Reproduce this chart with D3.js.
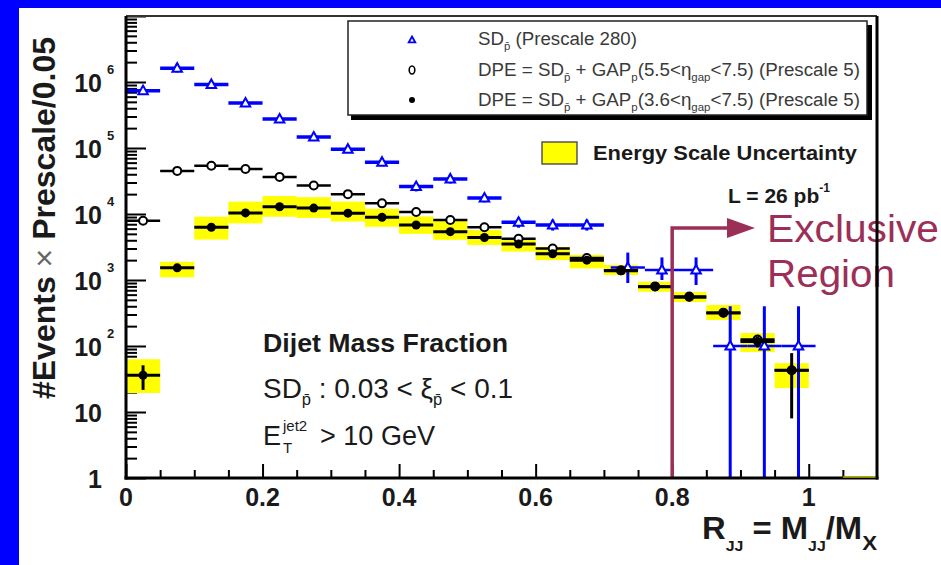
<!DOCTYPE html>
<html>
<head>
<meta charset="utf-8">
<script src="https://cdn.jsdelivr.net/npm/d3@7"></script>
<style>
  html, body { margin: 0; padding: 0; background: #0000ff; }
  svg { display: block; }
  text { font-family: "Liberation Sans", Arial, sans-serif; }
</style>
</head>
<body>
<svg id="chart" width="941" height="565"></svg>
<script>
// Dijet mass fraction R_JJ, bins of width 0.05
const binCenters = [0.025, 0.075, 0.125, 0.175, 0.225, 0.275, 0.325, 0.375, 0.425, 0.475,
                    0.525, 0.575, 0.625, 0.675, 0.725, 0.775, 0.825, 0.875, 0.925, 0.975];
const binHalfWidth = 0.025;

// SD_pbar sample (prescale 280)
const sdX  = [0.025, 0.075, 0.125, 0.175, 0.225, 0.275, 0.325, 0.375, 0.425, 0.475,
              0.525, 0.575, 0.625, 0.675, 0.735, 0.785, 0.835, 0.885, 0.935, 0.985];
const sdY  = [7.4e5, 1.62e6, 9.2e5, 4.8e5, 2.75e5, 1.47e5, 9.6e4, 6.1e4, 2.6e4, 3.4e4,
              1.75e4, 7.5e3, 6.8e3, 6.8e3, 1.55e3, 1.42e3, 1.42e3, 100, 100, 100];
const sdLo = [6.4e5, 1.4e6, 8.0e5, 4.2e5, 2.4e5, 1.28e5, 8.4e4, 5.3e4, 2.2e4, 2.9e4,
              1.5e4, 6.2e3, 5.6e3, 5.6e3, 900, 1.0e3, 840, 0, 0, 0];
const sdHi = [8.6e5, 1.9e6, 1.05e6, 5.5e5, 3.15e5, 1.7e5, 1.1e5, 7.0e4, 3.0e4, 3.9e4,
              2.0e4, 8.8e3, 8.2e3, 8.2e3, 2.6e3, 2.2e3, 2.2e3, 400, 400, 400];

// DPE with 5.5 < eta_gap < 7.5 (prescale 5)
const dpe55 = [7.9e3, 4.5e4, 5.4e4, 4.8e4, 3.65e4, 2.7e4, 2.0e4, 1.45e4, 1.07e4, 8.1e3,
               6.3e3, 4.2e3, 3.0e3, 2.15e3, 1.4e3, 800, 560, 320, 125, 43];

// DPE with 3.6 < eta_gap < 7.5 (prescale 5)
const dpe36   = [36, 1.53e3, 6.3e3, 1.04e4, 1.29e4, 1.23e4, 1.03e4, 8.9e3, 6.8e3, 5.4e3,
                 4.4e3, 3.5e3, 2.5e3, 2.0e3, 1.38e3, 790, 550, 316, 117, 43];
const dpe36Lo = [21.6, 1.45e3, 6.0e3, 1.0e4, 1.25e4, 1.19e4, 1.0e4, 8.6e3, 6.6e3, 5.2e3,
                 4.2e3, 3.35e3, 2.4e3, 1.9e3, 1.3e3, 740, 510, 290, 95, 8];
const dpe36Hi = [51, 1.62e3, 6.6e3, 1.08e4, 1.33e4, 1.27e4, 1.07e4, 9.2e3, 7.0e3, 5.6e3,
                 4.6e3, 3.65e3, 2.6e3, 2.1e3, 1.46e3, 840, 590, 345, 140, 78];

// Energy scale uncertainty band on the DPE (3.6) sample
const bandLo = [19.4, 1.1e3, 4.1e3, 7.2e3, 9.1e3, 8.7e3, 7.7e3, 6.4e3, 5.0e3, 4.06e3,
                3.4e3, 2.7e3, 2.0e3, 1.5e3, 1.19e3, 665, 464, 248, 81, 23];
const bandHi = [63, 1.89e3, 9.1e3, 1.54e4, 1.87e4, 1.8e4, 1.54e4, 1.2e4, 9.2e3, 8.1e3,
                5.7e3, 4.06e3, 3.17e3, 2.4e3, 1.69e3, 943, 658, 418, 157, 55];

// Axis ticks
const xMajorTicks = [0, 0.2, 0.4, 0.6, 0.8, 1.0];
const xTickLabels = ["0", "0.2", "0.4", "0.6", "0.8", "1"];
const xMinorTicks = [0.05, 0.1, 0.15, 0.25, 0.3, 0.35, 0.45, 0.5, 0.55, 0.65, 0.7, 0.75,
                     0.85, 0.9, 0.95, 1.05];
const yMajorTicks = [1, 10, 1e2, 1e3, 1e4, 1e5, 1e6, 1e7];
const yTickBase   = ["1", "10", "10", "10", "10", "10", "10"];
const yTickExp    = ["", "", "2", "3", "4", "5", "6"];

const exclusiveCut = 0.8;

const svg = d3.select("#chart");
const W = 941, H = 565;
const plot = { left: 126, right: 877, top: 16, bottom: 478 };

const x = d3.scaleLinear().domain([0, 1.1]).range([plot.left, plot.right]);
const y = d3.scaleLog().domain([1, 1e7]).range([plot.bottom, plot.top]);
const yv = v => (v > 0 ? y(Math.max(v, 1)) : plot.bottom);

// page background
svg.append("rect").attr("width", W).attr("height", H).attr("fill", "#0000ff");
svg.append("rect").attr("x", 19).attr("y", 8).attr("width", W - 19).attr("height", H - 8)
  .attr("fill", "#ffffff");

// ---- axes ticks (ROOT style, pointing inward) ----
const yMinor = y.ticks(70).filter(v => !yMajorTicks.includes(v));
const tickStyle = g => {
  g.select(".domain").remove();
  g.selectAll("line").attr("stroke", "#000").attr("stroke-width", 2);
  g.selectAll("text").remove();
};
svg.append("g").attr("transform", `translate(${plot.left},0)`)
  .call(d3.axisRight(y).tickValues(yMajorTicks).tickSize(20)).call(tickStyle);
svg.append("g").attr("transform", `translate(${plot.left},0)`)
  .call(d3.axisRight(y).tickValues(yMinor).tickSize(11)).call(tickStyle);
svg.append("g").attr("transform", `translate(0,${plot.bottom})`)
  .call(d3.axisTop(x).tickValues(xMajorTicks).tickSize(14)).call(tickStyle);
svg.append("g").attr("transform", `translate(0,${plot.bottom})`)
  .call(d3.axisTop(x).tickValues(xMinorTicks).tickSize(8)).call(tickStyle);

// ---- energy scale band ----
const bands = svg.append("g");
binCenters.forEach((c, i) => {
  bands.append("rect")
    .attr("x", x(c - binHalfWidth)).attr("width", x(c + binHalfWidth) - x(c - binHalfWidth))
    .attr("y", yv(bandHi[i])).attr("height", yv(bandLo[i]) - yv(bandHi[i]))
    .attr("fill", "#ffff00");
});

// ---- SD sample (blue open triangles) ----
const sdG = svg.append("g").attr("stroke", "#0000ff").attr("fill", "none");
sdX.forEach((c, i) => {
  const big = sdY[i] > 5e3;
  sdG.append("line").attr("x1", x(c - binHalfWidth)).attr("x2", x(c + binHalfWidth))
    .attr("y1", yv(sdY[i])).attr("y2", yv(sdY[i])).attr("stroke-width", big ? 3.5 : 2.5);
  sdG.append("line").attr("x1", x(c)).attr("x2", x(c))
    .attr("y1", yv(sdLo[i])).attr("y2", yv(sdHi[i])).attr("stroke-width", 3);
});

// ---- DPE 5.5 (open circles) ----
const g55 = svg.append("g").attr("stroke", "#000");
binCenters.forEach((c, i) => {
  g55.append("line").attr("x1", x(c - binHalfWidth)).attr("x2", x(c + binHalfWidth))
    .attr("y1", yv(dpe55[i])).attr("y2", yv(dpe55[i])).attr("stroke-width", 2.5);
});

// ---- DPE 3.6 (filled circles) ----
const g36 = svg.append("g").attr("stroke", "#000");
binCenters.forEach((c, i) => {
  g36.append("line").attr("x1", x(c - binHalfWidth)).attr("x2", x(c + binHalfWidth))
    .attr("y1", yv(dpe36[i])).attr("y2", yv(dpe36[i])).attr("stroke-width", 3);
  g36.append("line").attr("x1", x(c)).attr("x2", x(c))
    .attr("y1", yv(dpe36Lo[i])).attr("y2", yv(dpe36Hi[i])).attr("stroke-width", 3);
});

// markers
const tri = (cx, cy, s) => `M${cx},${cy - s} L${cx + s * 0.95},${cy + s * 0.7} L${cx - s * 0.95},${cy + s * 0.7} Z`;
binCenters.forEach((c, i) => {
  g55.append("circle").attr("cx", x(c)).attr("cy", yv(dpe55[i])).attr("r", 4)
    .attr("fill", "#fff").attr("stroke-width", 2);
});
sdX.forEach((c, i) => {
  sdG.append("path").attr("d", tri(x(c), yv(sdY[i]), 5))
    .attr("fill", "#fff").attr("stroke-width", 2);
});
binCenters.forEach((c, i) => {
  g36.append("circle").attr("cx", x(c)).attr("cy", yv(dpe36[i])).attr("r", 4.5)
    .attr("fill", "#000").attr("stroke", "none");
});

// ---- exclusive region marker ----
const exclColor = "#9c2f57";
const xc = x(exclusiveCut);
svg.append("path")
  .attr("d", `M${xc},${plot.bottom} L${xc},228 L730,228`)
  .attr("fill", "none").attr("stroke", exclColor).attr("stroke-width", 3.5);
svg.append("path").attr("d", "M727,218 L755,228 L727,238 Z").attr("fill", exclColor);
svg.append("text").attr("x", 767).attr("y", 242).attr("fill", exclColor)
  .attr("font-family", "DejaVu Sans").attr("font-size", 38)
  .attr("textLength", 172).attr("lengthAdjust", "spacingAndGlyphs").text("Exclusive");
svg.append("text").attr("x", 767).attr("y", 287).attr("fill", exclColor)
  .attr("font-family", "DejaVu Sans").attr("font-size", 38)
  .attr("textLength", 128).attr("lengthAdjust", "spacingAndGlyphs").text("Region");

// ---- frame ----
svg.append("line").attr("x1", plot.left).attr("x2", plot.right).attr("y1", plot.top).attr("y2", plot.top)
  .attr("stroke", "#333").attr("stroke-width", 2);
svg.append("line").attr("x1", plot.right).attr("x2", plot.right).attr("y1", plot.top).attr("y2", plot.bottom + 1.5)
  .attr("stroke", "#000").attr("stroke-width", 3);
svg.append("line").attr("x1", plot.left).attr("x2", plot.left).attr("y1", plot.top).attr("y2", plot.bottom + 1.5)
  .attr("stroke", "#000").attr("stroke-width", 3);
svg.append("line").attr("x1", plot.left - 1.5).attr("x2", plot.right + 1.5).attr("y1", plot.bottom).attr("y2", plot.bottom)
  .attr("stroke", "#000").attr("stroke-width", 3);
// empty last bin of the uncertainty band, drawn at the axis
svg.append("line").attr("x1", x(1.05)).attr("x2", x(1.1) - 1.5).attr("y1", plot.bottom - 1).attr("y2", plot.bottom - 1)
  .attr("stroke", "#b8b000").attr("stroke-width", 1.5);

// ---- tick labels ----
const labelColor = "#1a1a1a";
xMajorTicks.forEach((v, i) => {
  svg.append("text").attr("x", x(v)).attr("y", 506).attr("text-anchor", "middle")
    .attr("font-size", 25).attr("font-weight", "bold").attr("fill", labelColor).text(xTickLabels[i]);
});
yTickBase.forEach((b, i) => {
  const ty = y(yMajorTicks[i]);
  svg.append("text").attr("x", 102).attr("y", ty + 10).attr("text-anchor", "end")
    .attr("font-size", 25).attr("font-weight", "bold").attr("fill", labelColor).text(b);
  if (yTickExp[i]) {
    svg.append("text").attr("x", 107).attr("y", ty - 8)
      .attr("font-size", 13).attr("font-weight", "bold").attr("fill", labelColor).text(yTickExp[i]);
  }
});

// ---- axis titles ----
const yTitle = svg.append("text").attr("transform", "translate(55,218) rotate(-90)")
  .attr("text-anchor", "middle").attr("font-size", 32).attr("font-weight", "bold").attr("fill", labelColor);
yTitle.append("tspan").text("#Events ");
yTitle.append("tspan").attr("font-weight", "normal").attr("fill", "#666").text("×");
yTitle.append("tspan").text(" Prescale/0.05");

const xTitle = svg.append("text").attr("x", 702).attr("y", 539)
  .attr("font-size", 31).attr("font-weight", "bold").attr("fill", labelColor)
  .attr("textLength", 175).attr("lengthAdjust", "spacingAndGlyphs");
xTitle.append("tspan").text("R");
xTitle.append("tspan").attr("font-size", 15).attr("dy", 12).text("JJ");
xTitle.append("tspan").attr("dy", -12).text(" = M");
xTitle.append("tspan").attr("font-size", 15).attr("dy", 12).text("JJ");
xTitle.append("tspan").attr("dy", -12).text("/M");
xTitle.append("tspan").attr("font-size", 21).attr("dy", 11).text("X");

// ---- legend ----
svg.append("rect").attr("x", 351).attr("y", 25).attr("width", 521).attr("height", 95).attr("fill", "#000");
svg.append("rect").attr("x", 348).attr("y", 21).attr("width", 519).attr("height", 94)
  .attr("fill", "#fff").attr("stroke", "#222").attr("stroke-width", 1.5);
const legX = 412, legRows = [39, 70, 100];
svg.append("path").attr("d", tri(legX, legRows[0] + 1, 3.5)).attr("fill", "#fff")
  .attr("stroke", "#0000ff").attr("stroke-width", 1.8);
svg.append("ellipse").attr("cx", legX).attr("cy", legRows[1]).attr("rx", 2.8).attr("ry", 4)
  .attr("fill", "#fff").attr("stroke", "#000").attr("stroke-width", 1.6);
svg.append("circle").attr("cx", legX).attr("cy", legRows[2]).attr("r", 3).attr("fill", "#000");

const legColor = "#3a3a3a";
const legText = (row, parts, len) => {
  const t = svg.append("text").attr("x", 478).attr("y", row + 6).attr("font-size", 18)
    .attr("fill", legColor).attr("textLength", len).attr("lengthAdjust", "spacingAndGlyphs");
  parts.forEach(p => {
    const s = t.append("tspan").text(p.t);
    if (p.sub) s.attr("font-size", 11).attr("dy", 5);
    if (p.up) s.attr("dy", -5);
  });
};
legText(legRows[0], [{ t: "SD" }, { t: "p̄", sub: true }, { t: " (Prescale 280)", up: true }], 159);
legText(legRows[1], [{ t: "DPE = SD" }, { t: "p̄", sub: true }, { t: " + GAP", up: true }, { t: "p", sub: true },
  { t: "(5.5<η", up: true }, { t: "gap", sub: true }, { t: "<7.5) (Prescale 5)", up: true }], 382);
legText(legRows[2], [{ t: "DPE = SD" }, { t: "p̄", sub: true }, { t: " + GAP", up: true }, { t: "p", sub: true },
  { t: "(3.6<η", up: true }, { t: "gap", sub: true }, { t: "<7.5) (Prescale 5)", up: true }], 382);

// energy scale uncertainty key
svg.append("rect").attr("x", 542).attr("y", 142).attr("width", 35).attr("height", 22)
  .attr("fill", "#ffff00").attr("stroke", "#555").attr("stroke-width", 1.5);
svg.append("text").attr("x", 593).attr("y", 160).attr("font-size", 21).attr("font-weight", "bold")
  .attr("fill", labelColor).attr("textLength", 264).attr("lengthAdjust", "spacingAndGlyphs")
  .text("Energy Scale Uncertainty");

const lumi = svg.append("text").attr("x", 728).attr("y", 203).attr("font-size", 21)
  .attr("font-weight", "bold").attr("fill", labelColor);
lumi.append("tspan").text("L = 26 pb");
lumi.append("tspan").attr("font-size", 12).attr("dy", -11).text("-1");

// ---- selection annotations ----
svg.append("text").attr("x", 263).attr("y", 352).attr("font-size", 26).attr("font-weight", "bold")
  .attr("fill", labelColor).attr("textLength", 245).attr("lengthAdjust", "spacingAndGlyphs")
  .text("Dijet Mass Fraction");

const sel = svg.append("text").attr("x", 263).attr("y", 398).attr("font-size", 27).attr("fill", labelColor)
  .attr("textLength", 250).attr("lengthAdjust", "spacingAndGlyphs");
sel.append("tspan").text("SD");
sel.append("tspan").attr("font-size", 16).attr("dy", 7).text("p̄");
sel.append("tspan").attr("dy", -7).text(" : 0.03 < ξ");
sel.append("tspan").attr("font-size", 16).attr("dy", 7).text("p̄");
sel.append("tspan").attr("dy", -7).text(" < 0.1");

svg.append("text").attr("x", 263).attr("y", 445).attr("font-size", 27).attr("fill", labelColor).text("E");
svg.append("text").attr("x", 283).attr("y", 453).attr("font-size", 15).attr("fill", labelColor).text("T");
svg.append("text").attr("x", 283).attr("y", 431).attr("font-size", 15).attr("fill", labelColor).text("jet2");
svg.append("text").attr("x", 320).attr("y", 445).attr("font-size", 27).attr("fill", labelColor)
  .attr("textLength", 115).attr("lengthAdjust", "spacingAndGlyphs").text("> 10 GeV");
</script>
</body>
</html>
